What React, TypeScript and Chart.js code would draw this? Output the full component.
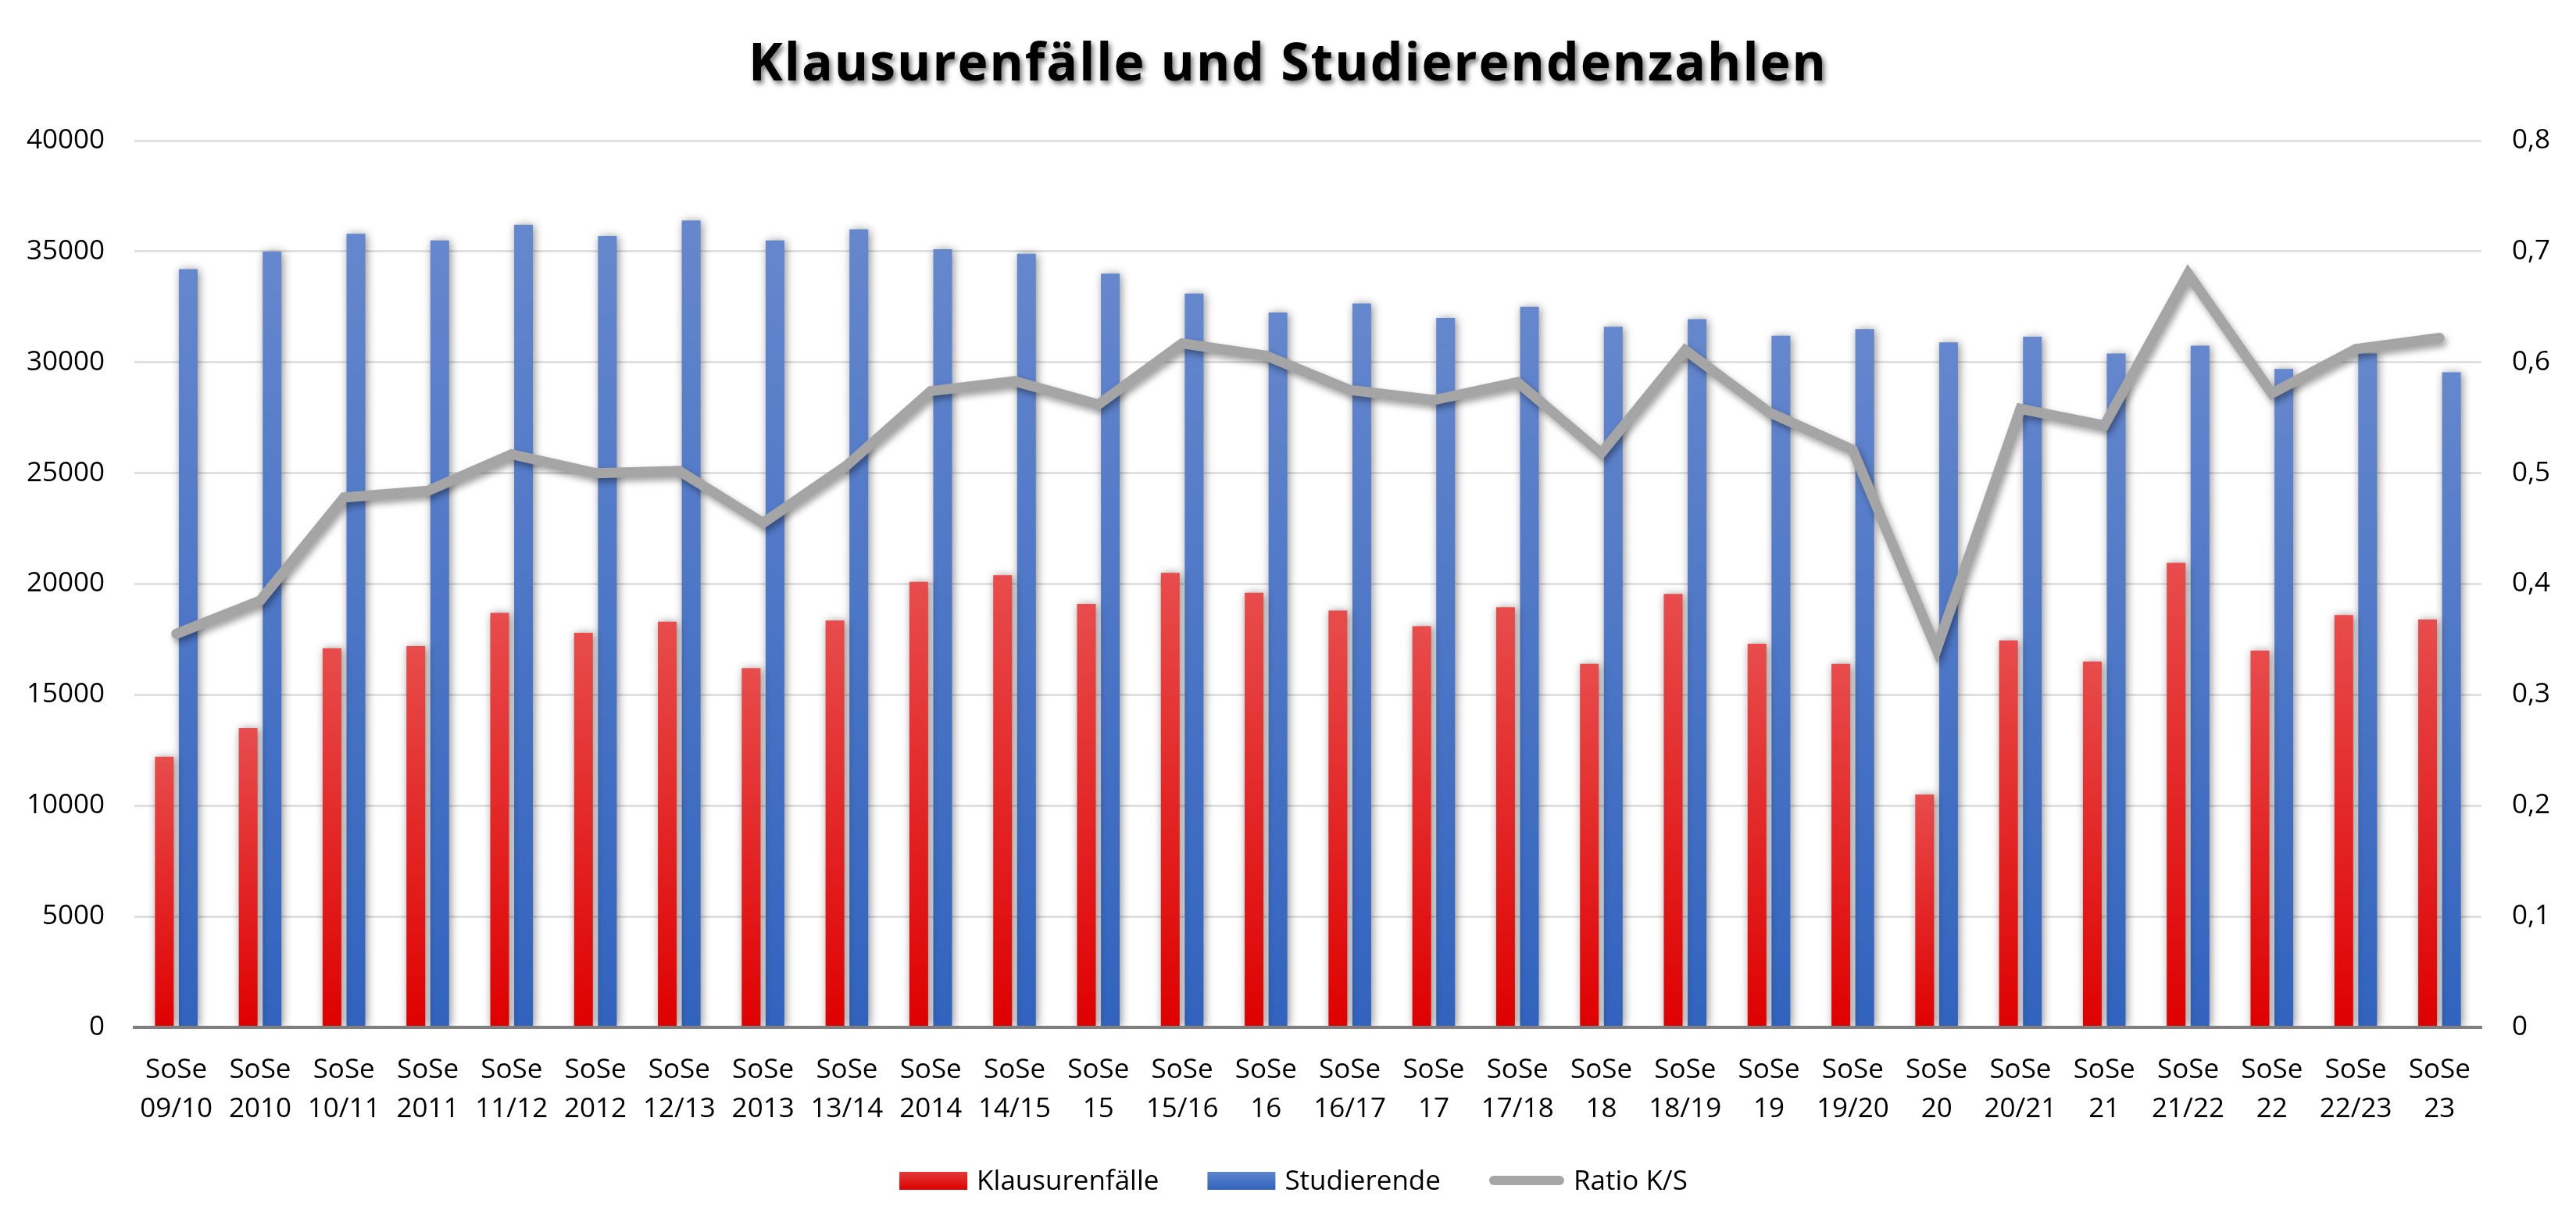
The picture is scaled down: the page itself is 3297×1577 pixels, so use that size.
import { useEffect, useRef } from 'react';
import { Chart, registerables } from 'chart.js';

Chart.register(...registerables);

const W = 3297;
const H = 1577;

const TITLE = 'Klausurenfälle und Studierendenzahlen';

const semesters: string[][] = [
  ['SoSe', '09/10'], ['SoSe', '2010'], ['SoSe', '10/11'], ['SoSe', '2011'],
  ['SoSe', '11/12'], ['SoSe', '2012'], ['SoSe', '12/13'], ['SoSe', '2013'],
  ['SoSe', '13/14'], ['SoSe', '2014'], ['SoSe', '14/15'], ['SoSe', '15'],
  ['SoSe', '15/16'], ['SoSe', '16'], ['SoSe', '16/17'], ['SoSe', '17'],
  ['SoSe', '17/18'], ['SoSe', '18'], ['SoSe', '18/19'], ['SoSe', '19'],
  ['SoSe', '19/20'], ['SoSe', '20'], ['SoSe', '20/21'], ['SoSe', '21'],
  ['SoSe', '21/22'], ['SoSe', '22'], ['SoSe', '22/23'], ['SoSe', '23'],
];

const klausurenfaelle: number[] = [
  12200, 13500, 17100, 17200, 18700, 17800, 18300, 16200, 18350, 20100,
  20400, 19100, 20500, 19600, 18800, 18100, 18950, 16400, 19550, 17300,
  16400, 10500, 17450, 16500, 20950, 17000, 18600, 18400,
];

const studierende: number[] = [
  34200, 35000, 35800, 35500, 36200, 35700, 36400, 35500, 36000, 35100,
  34900, 34000, 33100, 32250, 32650, 32000, 32500, 31600, 31950, 31200,
  31500, 30900, 31150, 30400, 30750, 29700, 30400, 29550,
];

const ratioKS: number[] = [
  0.355, 0.385, 0.478, 0.484, 0.517, 0.500, 0.502, 0.455, 0.507, 0.574,
  0.583, 0.562, 0.617, 0.606, 0.575, 0.566, 0.582, 0.518, 0.611, 0.555,
  0.521, 0.341, 0.558, 0.543, 0.680, 0.572, 0.612, 0.622,
];

const seriesNames = ['Klausurenfälle', 'Studierende', 'Ratio K/S'];

const leftTicks = { min: 0, max: 40000, step: 5000 };
const rightTicks = { min: 0, max: 0.8, step: 0.1 };

const RED_TOP = '#E84C4C';
const RED_BOTTOM = '#DF0000';
const BLUE_TOP = '#6587CD';
const BLUE_BOTTOM = '#3163BE';
const GREY = '#A5A5A5';

const FONT = '"Open Sans", "DejaVu Sans", sans-serif';

function barFill(top: string, bottom: string) {
  return (c: any) => {
    const chart = c.chart;
    const area = chart.chartArea;
    const y = chart.scales?.y;
    if (!area || !y || c.type !== 'data') return bottom;
    const v = typeof c.raw === 'number' ? c.raw : 0;
    const y0 = y.getPixelForValue(v);
    const y1 = y.getPixelForValue(0);
    const g = chart.ctx.createLinearGradient(0, y0, 0, y1 > y0 ? y1 : y0 + 1);
    g.addColorStop(0, top);
    g.addColorStop(1, bottom);
    return g;
  };
}

// soft drop shadows under bars and the ratio line
const shadowPlugin = {
  id: 'markShadow',
  beforeDatasetDraw(chart: any, args: any) {
    const ctx = chart.ctx;
    ctx.save();
    if (args.meta.type === 'bar') {
      ctx.shadowColor = 'rgba(0,0,0,0.45)';
      ctx.shadowBlur = 12;
      ctx.shadowOffsetX = 2;
      ctx.shadowOffsetY = 1;
    } else {
      ctx.shadowColor = 'rgba(0,0,0,0.38)';
      ctx.shadowBlur = 9;
      ctx.shadowOffsetX = 3;
      ctx.shadowOffsetY = 5;
    }
  },
  afterDatasetDraw(chart: any) {
    chart.ctx.restore();
  },
};

// heading with letter spacing and a shadow
const headingPlugin = {
  id: 'heading',
  afterDraw(chart: any) {
    const ctx = chart.ctx;
    ctx.save();
    ctx.font = `700 66px ${FONT}`;
    (ctx as any).letterSpacing = '2px';
    ctx.textAlign = 'center';
    ctx.textBaseline = 'alphabetic';
    ctx.shadowColor = 'rgba(0,0,0,0.55)';
    ctx.shadowBlur = 6;
    ctx.shadowOffsetX = 3;
    ctx.shadowOffsetY = 4;
    ctx.fillStyle = '#000';
    ctx.fillText(TITLE, W / 2, 103);
    ctx.restore();
  },
};

// legend row below the axis
const legendPlugin = {
  id: 'legendRow',
  afterDraw(chart: any) {
    const ctx = chart.ctx;
    const names = chart.data.datasets.map((d: any) => d.label);
    ctx.save();
    ctx.font = `35px ${FONT}`;
    const boxW = 87;
    const boxH = 23;
    const lineLen = 96;
    const gapText = 12;
    const gapItem = 62;
    const widths = names.map((n: string) => ctx.measureText(n).width);
    const keyW = [boxW, boxW, lineLen];
    let total = 0;
    names.forEach((_: string, i: number) => {
      total += keyW[i] + gapText + widths[i];
      if (i < names.length - 1) total += gapItem;
    });
    let x = W / 2 + 7 - total / 2;
    const base = 1523;
    names.forEach((n: string, i: number) => {
      if (i < 2) {
        const g = ctx.createLinearGradient(0, base - boxH, 0, base);
        g.addColorStop(0, i === 0 ? '#E33A3A' : '#5F84CC');
        g.addColorStop(1, i === 0 ? '#DF0000' : '#3163BE');
        ctx.fillStyle = g;
        ctx.fillRect(x, base - boxH, boxW, boxH);
      } else {
        ctx.strokeStyle = GREY;
        ctx.lineWidth = 12;
        ctx.lineCap = 'round';
        ctx.beginPath();
        ctx.moveTo(x + 6, base - 12);
        ctx.lineTo(x + lineLen - 6, base - 12);
        ctx.stroke();
      }
      x += keyW[i] + gapText;
      ctx.fillStyle = '#000';
      ctx.textBaseline = 'alphabetic';
      ctx.textAlign = 'left';
      ctx.fillText(n, x, base);
      x += widths[i] + gapItem;
    });
    ctx.restore();
  },
};

const X_AXIS_H = 120;
const PLOT_BOTTOM = 1315;

export default function App() {
  const ref = useRef<HTMLCanvasElement | null>(null);

  useEffect(() => {
    document.body.style.margin = '0';
    const canvas = ref.current;
    if (!canvas) return;

    const chart = new Chart(canvas, {
      type: 'bar',
      data: {
        labels: semesters,
        datasets: [
          {
            type: 'bar',
            label: seriesNames[0],
            data: klausurenfaelle,
            yAxisID: 'y',
            order: 1,
            backgroundColor: barFill(RED_TOP, RED_BOTTOM),
            borderWidth: 0,
            categoryPercentage: 0.57,
            barPercentage: 0.785,
          },
          {
            type: 'bar',
            label: seriesNames[1],
            data: studierende,
            yAxisID: 'y',
            order: 1,
            backgroundColor: barFill(BLUE_TOP, BLUE_BOTTOM),
            borderWidth: 0,
            categoryPercentage: 0.57,
            barPercentage: 0.785,
          },
          {
            type: 'line',
            label: seriesNames[2],
            data: ratioKS,
            yAxisID: 'y1',
            order: 0,
            borderColor: GREY,
            backgroundColor: GREY,
            borderWidth: 13,
            borderCapStyle: 'round',
            borderJoinStyle: 'miter',
            pointRadius: 0,
            pointHoverRadius: 0,
            tension: 0,
            fill: false,
          },
        ] as any,
      },
      options: {
        responsive: false,
        animation: false,
        devicePixelRatio: 1,
        layout: {
          padding: { top: 180, bottom: H - PLOT_BOTTOM - X_AXIS_H, left: 0, right: 0 },
        },
        plugins: {
          legend: { display: false },
          title: { display: false },
          tooltip: { enabled: false },
        },
        scales: {
          x: {
            grid: { display: false, drawTicks: false },
            border: { display: true, color: '#7F7F7F', width: 4, z: 1 },
            ticks: {
              color: '#000',
              font: { family: FONT, size: 35, lineHeight: 1.43 },
              padding: 30,
              maxRotation: 0,
              autoSkip: false,
            },
            afterFit: (s: any) => { s.height = X_AXIS_H; },
          },
          y: {
            position: 'left',
            min: leftTicks.min,
            max: leftTicks.max,
            grid: { color: '#E0E0E0', lineWidth: 3, drawTicks: false },
            border: { display: false },
            ticks: {
              stepSize: leftTicks.step,
              color: '#000',
              font: { family: FONT, size: 35 },
              padding: 38,
              callback: (v: any) => String(v),
            },
            afterFit: (s: any) => { s.width = 172; },
          },
          y1: {
            position: 'right',
            min: rightTicks.min,
            max: rightTicks.max,
            grid: { display: false, drawTicks: false },
            border: { display: false },
            ticks: {
              stepSize: rightTicks.step,
              color: '#000',
              font: { family: FONT, size: 35 },
              padding: 39,
              callback: (v: any) => (Number(v) === 0 ? '0' : Number(v).toFixed(1).replace('.', ',')),
            },
            afterFit: (s: any) => { s.width = 121; },
          },
        },
      } as any,
      plugins: [shadowPlugin, headingPlugin, legendPlugin],
    });

    return () => chart.destroy();
  }, []);

  return (
    <div style={{ position: 'fixed', left: 0, top: 0, width: W, height: H, background: '#fff' }}>
      <canvas ref={ref} width={W} height={H} style={{ width: W, height: H, display: 'block' }} />
    </div>
  );
}
